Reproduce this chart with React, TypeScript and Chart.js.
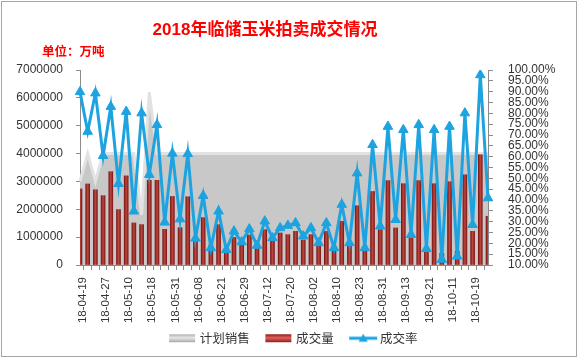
import React, { useEffect, useRef } from 'react';
import { Chart, registerables } from 'chart.js';

Chart.register(...registerables);

const dates = [
  '18-04-19', '18-04-20', '18-04-26', '18-04-27', '18-05-03', '18-05-04',
  '18-05-10', '18-05-11', '18-05-17', '18-05-18', '18-05-24', '18-05-25',
  '18-05-31', '18-06-01', '18-06-07', '18-06-08', '18-06-14', '18-06-15',
  '18-06-21', '18-06-22', '18-06-28', '18-06-29', '18-07-05', '18-07-06',
  '18-07-12', '18-07-13', '18-07-19', '18-07-20', '18-07-26', '18-07-27',
  '18-08-02', '18-08-03', '18-08-09', '18-08-10', '18-08-16', '18-08-17',
  '18-08-23', '18-08-24', '18-08-30', '18-08-31', '18-09-06', '18-09-07',
  '18-09-13', '18-09-14', '18-09-20', '18-09-21', '18-09-27', '18-09-28',
  '18-10-11', '18-10-12', '18-10-18', '18-10-19', '18-10-25', '18-10-26',
];

// 计划销售 (吨)
const planned = [
  3000000, 4000000, 3000000, 4000000, 4000000, 4000000,
  4000000, 4000000, 1800000, 6200000, 4000000, 4000000,
  4000000, 4000000, 4000000, 4000000, 4000000, 4000000,
  4000000, 4000000, 4000000, 4000000, 4000000, 4000000,
  4000000, 4000000, 4000000, 4000000, 4000000, 4000000,
  4000000, 4000000, 4000000, 4000000, 4000000, 4000000,
  4000000, 4000000, 4000000, 4000000, 4000000, 4000000,
  4000000, 4000000, 4000000, 4000000, 4000000, 4000000,
  4000000, 4000000, 4000000, 4000000, 4000000, 4000000,
];

// 成交量 (吨)
const volume = [
  2730000, 2910000, 2700000, 2490000, 3350000, 1990000,
  3200000, 1510000, 1450000, 3040000, 3040000, 1280000,
  2460000, 1340000, 2450000, 850000, 1700000, 720000,
  1450000, 620000, 990000, 780000, 1080000, 720000,
  1270000, 880000, 1150000, 1090000, 1210000, 900000,
  1090000, 780000, 1210000, 660000, 1570000, 780000,
  2130000, 680000, 2640000, 1270000, 3030000, 1330000,
  2920000, 970000, 3030000, 640000, 2920000, 420000,
  2990000, 500000, 3240000, 1210000, 3960000, 1750000,
];

// 成交率 (%)
const rate = [
  89.9, 71.6, 89.3, 60.4, 83.1, 47.5,
  80.8, 34.8, 80.1, 51.7, 74.7, 29.7,
  61.5, 31.2, 61.3, 22.3, 42.0, 17.9,
  34.8, 17.0, 25.6, 20.6, 26.6, 19.0,
  30.2, 22.5, 27.1, 28.2, 29.4, 23.3,
  27.1, 20.2, 29.4, 17.9, 37.9, 20.2,
  52.4, 17.9, 65.5, 27.9, 73.9, 30.9,
  72.4, 24.0, 74.7, 17.5, 72.4, 12.5,
  73.9, 14.0, 80.1, 28.6, 97.7, 40.9,
];

const leftMin = 0;
const leftMax = 7000000;
const leftStep = 1000000;
const rightMin = 10;
const rightMax = 100;
const rightStep = 5;

const seriesNames = ['计划销售', '成交量', '成交率'];

const BLUE = '#1ca3e0';
const AXIS = '#8c8c8c';
const TEXT = '#333333';

// legend swatch images (drawn centred in a 33px legend box)
function makeSwatch(kind: string): HTMLCanvasElement {
  const c = document.createElement('canvas');
  c.width = 42;
  c.height = 10;
  const ctx = c.getContext('2d') as CanvasRenderingContext2D;
  if (kind === 'line') {
    ctx.strokeStyle = BLUE;
    ctx.lineWidth = 3;
    ctx.beginPath();
    ctx.moveTo(13, 5);
    ctx.lineTo(41, 5);
    ctx.stroke();
    ctx.fillStyle = BLUE;
    ctx.beginPath();
    ctx.moveTo(27, 0.5);
    ctx.lineTo(31.5, 8.5);
    ctx.lineTo(22.5, 8.5);
    ctx.closePath();
    ctx.fill();
  } else {
    const g = ctx.createLinearGradient(0, 1, 0, 9);
    if (kind === 'gray') {
      g.addColorStop(0, '#b0b0b0');
      g.addColorStop(0.45, '#e8e8e8');
      g.addColorStop(1, '#a8a8a8');
    } else {
      g.addColorStop(0, '#8a1e1b');
      g.addColorStop(0.45, '#e4605a');
      g.addColorStop(1, '#8a1e1b');
    }
    ctx.fillStyle = g;
    ctx.fillRect(13, 1, 26, 8);
  }
  return c;
}

export default function App() {
  const ref = useRef<HTMLCanvasElement | null>(null);

  useEffect(() => {
    const canvas = ref.current;
    if (!canvas) return;
    const swatches = [makeSwatch('gray'), makeSwatch('red'), makeSwatch('line')];

    const barColor = (ctx: any) => {
      const chart = ctx.chart;
      const xs = chart.scales && chart.scales.x;
      if (!xs || ctx.dataIndex === undefined) return '#a0302b';
      const x = xs.getPixelForValue(ctx.dataIndex);
      const g = chart.ctx.createLinearGradient(x - 2, 0, x + 2, 0);
      g.addColorStop(0, '#7a1815');
      g.addColorStop(0.5, '#bf453f');
      g.addColorStop(1, '#7e1a17');
      return g;
    };

    const chart = new Chart(canvas, {
      type: 'bar',
      data: {
        labels: dates,
        datasets: [
          {
            type: 'line',
            label: seriesNames[0],
            data: planned,
            yAxisID: 'y',
            fill: 'origin',
            backgroundColor: '#c8c8c8',
            borderColor: '#e2e2e2',
            borderWidth: 3,
            pointRadius: 0,
            tension: 0,
            order: 3,
          } as any,
          {
            type: 'bar',
            label: seriesNames[1],
            data: volume,
            yAxisID: 'y',
            backgroundColor: barColor,
            barThickness: 4,
            order: 2,
          } as any,
          {
            type: 'line',
            label: seriesNames[2],
            data: rate,
            yAxisID: 'y1',
            borderColor: BLUE,
            backgroundColor: BLUE,
            borderWidth: 3,
            pointStyle: 'triangle',
            pointRadius: 5.5,
            pointBackgroundColor: BLUE,
            pointBorderColor: BLUE,
            pointBorderWidth: 1,
            tension: 0,
            fill: false,
            order: 1,
          } as any,
        ],
      },
      options: {
        responsive: false,
        animation: false,
        devicePixelRatio: 1,
        layout: { padding: { left: 0, right: 0, top: 70, bottom: 3.5 } },
        plugins: {
          title: { display: false },
          tooltip: { enabled: false },
          legend: {
            display: true,
            position: 'bottom',
            align: 'center',
            labels: {
              usePointStyle: true,
              pointStyleWidth: 33,
              padding: 7,
              color: TEXT,
              font: { size: 12.5, family: '"Noto Sans CJK SC", "Liberation Sans", sans-serif' },
              generateLabels: () =>
                seriesNames.map((name, i) => ({
                  text: name,
                  pointStyle: swatches[i] as any,
                  fillStyle: 'transparent',
                  strokeStyle: 'transparent',
                  lineWidth: 0,
                  hidden: false,
                  datasetIndex: i,
                  fontColor: TEXT,
                })),
            },
          },
        },
        scales: {
          x: {
            type: 'category',
            offset: false,
            grid: {
              display: true,
              drawOnChartArea: false,
              drawTicks: true,
              tickLength: 5,
              color: AXIS,
            },
            border: { display: true, color: AXIS, width: 1 },
            ticks: {
              autoSkip: false,
              maxRotation: 90,
              minRotation: 90,
              padding: 7,
              labelOffset: 3,
              color: TEXT,
              font: { size: 11.5, family: '"Liberation Sans", Arial, sans-serif' },
              callback: function (this: any, value: any, index: number) {
                return index % 3 === 0 ? dates[index] : '';
              },
            },
            afterFit: (s: any) => {
              s.height = 60;
            },
          },
          y: {
            type: 'linear',
            position: 'left',
            min: leftMin,
            max: leftMax,
            grid: {
              display: true,
              drawOnChartArea: false,
              drawTicks: true,
              tickLength: 4,
              color: AXIS,
            },
            border: { display: true, color: AXIS, width: 1 },
            ticks: {
              stepSize: leftStep,
              autoSkip: false,
              padding: 13,
              color: TEXT,
              font: { size: 12, family: '"Liberation Sans", Arial, sans-serif' },
              callback: (v: any) => String(v),
            },
            afterFit: (s: any) => {
              s.width = 80;
            },
          },
          y1: {
            type: 'linear',
            position: 'right',
            min: rightMin,
            max: rightMax,
            grid: {
              display: true,
              drawOnChartArea: false,
              drawTicks: true,
              tickLength: 5,
              color: AXIS,
            },
            border: { display: true, color: AXIS, width: 1 },
            ticks: {
              stepSize: rightStep,
              autoSkip: false,
              padding: 15,
              color: TEXT,
              font: { size: 12, family: '"Liberation Sans", Arial, sans-serif' },
              callback: (v: any) => Number(v).toFixed(2) + '%',
            },
            afterFit: (s: any) => {
              s.width = 90;
            },
          },
        },
      } as any,
    });

    return () => {
      chart.destroy();
    };
  }, []);

  return (
    <div style={{ position: 'absolute', left: 0, top: 0, width: 578, height: 358, background: '#ffffff', overflow: 'hidden' }}>
      <canvas ref={ref} width={578} height={358} style={{ position: 'absolute', left: 0, top: 0, width: 578, height: 358, display: 'block' }} />
      <div
        style={{
          position: 'absolute',
          left: 0,
          top: 19,
          width: 530,
          textAlign: 'center',
          color: '#ff0000',
          fontWeight: 'bold',
          fontSize: 17,
          lineHeight: '22px',
          fontFamily: '"Liberation Sans", "Noto Sans CJK SC", sans-serif',
          whiteSpace: 'nowrap',
        }}
      >
        2018年临储玉米拍卖成交情况
      </div>
      <div
        style={{
          position: 'absolute',
          left: 42,
          top: 43,
          color: '#ff0000',
          fontWeight: 'bold',
          fontSize: 12.5,
          lineHeight: '16px',
          fontFamily: '"Noto Sans CJK SC", sans-serif',
          whiteSpace: 'nowrap',
        }}
      >
        单位：万吨
      </div>
      <div
        style={{
          position: 'absolute',
          left: 1,
          top: 1,
          width: 576,
          height: 356,
          boxSizing: 'border-box',
          border: '1px solid #a6a6a6',
          pointerEvents: 'none',
        }}
      />
    </div>
  );
}
